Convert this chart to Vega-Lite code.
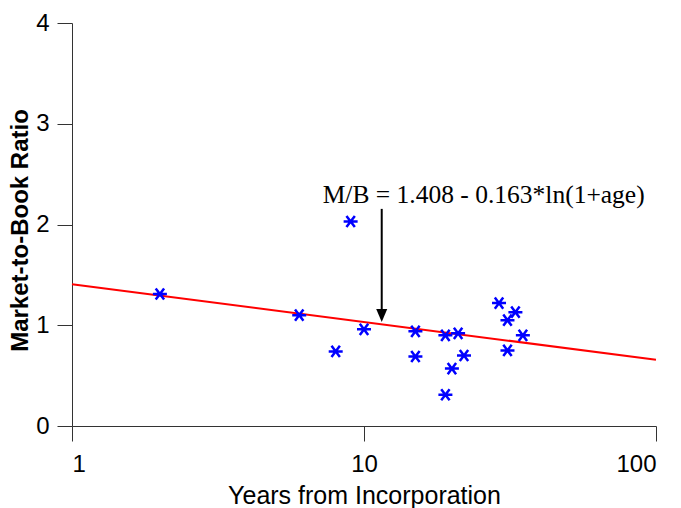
{
  "$schema": "https://vega.github.io/schema/vega-lite/v6.json",
  "width": 584,
  "height": 403,
  "autosize": {"type": "none"},
  "padding": {"left": 72, "top": 23, "right": 25, "bottom": 82},
  "background": "white",
  "config": {
    "view": {"stroke": null},
    "font": "Liberation Sans",
    "axis": {
      "grid": false,
      "domainColor": "#333333",
      "tickColor": "#333333",
      "domainWidth": 1,
      "tickWidth": 1,
      "tickSize": 15,
      "labelFont": "Liberation Sans",
      "labelFontSize": 24,
      "labelColor": "#000000",
      "titleFont": "Liberation Sans",
      "titleColor": "#000000"
    }
  },
  "datasets": {
    "firms": [
      {"age": 2, "mb": 1.31},
      {"age": 6, "mb": 1.1},
      {"age": 8, "mb": 0.74},
      {"age": 9, "mb": 2.03},
      {"age": 10, "mb": 0.96},
      {"age": 15, "mb": 0.94},
      {"age": 15, "mb": 0.69},
      {"age": 19, "mb": 0.9},
      {"age": 19, "mb": 0.31},
      {"age": 20, "mb": 0.57},
      {"age": 21, "mb": 0.92},
      {"age": 22, "mb": 0.7},
      {"age": 29, "mb": 1.22},
      {"age": 31, "mb": 1.05},
      {"age": 31, "mb": 0.75},
      {"age": 33, "mb": 1.13},
      {"age": 35, "mb": 0.9}
    ],
    "fit": [
      {"age": 1, "mb": 1.408},
      {"age": 100, "mb": 0.657}
    ],
    "arrow": [
      {"age": 11.5, "mb": 2.155, "mb2": 1.12, "tip": 1.033}
    ],
    "note": [
      {"age": 7.22, "mb": 2.214, "label": "M/B = 1.408 - 0.163*ln(1+age)"}
    ]
  },
  "layer": [
    {
      "data": {"name": "fit"},
      "mark": {"type": "line", "color": "#ff0000", "strokeWidth": 2},
      "encoding": {
        "x": {
          "field": "age",
          "type": "quantitative",
          "scale": {"type": "log", "domain": [1, 100], "nice": false},
          "axis": {
            "values": [1, 10, 100],
            "format": "d",
            "labelPadding": 11,
            "title": "Years from Incorporation",
            "titleFontSize": 25,
            "titleFontWeight": "normal",
            "titleBaseline": "alphabetic",
            "titleY": 77
          }
        },
        "y": {
          "field": "mb",
          "type": "quantitative",
          "scale": {"domain": [0, 4], "nice": false, "zero": false},
          "axis": {
            "values": [0, 1, 2, 3, 4],
            "format": "d",
            "labelPadding": 8,
            "title": "Market-to-Book Ratio",
            "titleFontSize": 24,
            "titleFontWeight": "bold",
            "titleAngle": -90,
            "titleBaseline": "alphabetic",
            "titleAlign": "center",
            "titleX": -45,
            "titleY": 207
          }
        }
      }
    },
    {
      "data": {"name": "firms"},
      "mark": {
        "type": "point",
        "shape": "M-1,0L1,0M-0.6,-0.8L0.6,0.8M-0.6,0.8L0.6,-0.8",
        "size": 196,
        "filled": false,
        "stroke": "#0000ff",
        "strokeWidth": 2.5,
        "opacity": 1
      },
      "encoding": {
        "x": {"field": "age", "type": "quantitative"},
        "y": {"field": "mb", "type": "quantitative"}
      }
    },
    {
      "data": {"name": "arrow"},
      "mark": {"type": "rule", "color": "#000000", "strokeWidth": 2},
      "encoding": {
        "x": {"field": "age", "type": "quantitative"},
        "y": {"field": "mb", "type": "quantitative"},
        "y2": {"field": "mb2"}
      }
    },
    {
      "data": {"name": "arrow"},
      "mark": {
        "type": "point",
        "shape": "M0,0L-0.46,-1.08L0.46,-1.08Z",
        "size": 576,
        "filled": true,
        "color": "#000000",
        "opacity": 1
      },
      "encoding": {
        "x": {"field": "age", "type": "quantitative"},
        "y": {"field": "tip", "type": "quantitative"}
      }
    },
    {
      "data": {"name": "note"},
      "mark": {
        "type": "text",
        "font": "Liberation Serif",
        "fontSize": 25.5,
        "align": "left",
        "baseline": "alphabetic",
        "color": "#000000"
      },
      "encoding": {
        "x": {"field": "age", "type": "quantitative"},
        "y": {"field": "mb", "type": "quantitative"},
        "text": {"field": "label"}
      }
    }
  ]
}
